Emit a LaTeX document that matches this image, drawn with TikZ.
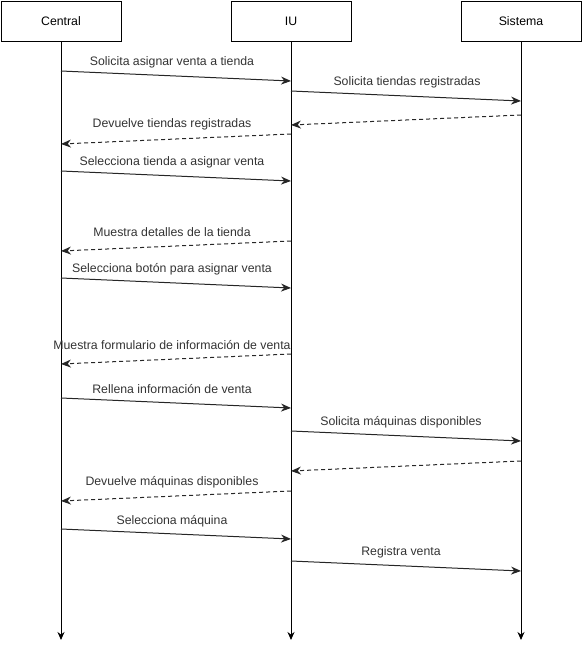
\documentclass[tikz,border=0pt]{standalone}
\usepackage{fontspec}
\setmainfont{Liberation Sans}
\usetikzlibrary{arrows.meta}
\definecolor{txt}{HTML}{333333}
\tikzset{
  actor/.style={draw=black, line width=1pt, minimum width=120pt, minimum height=40pt, inner sep=0pt, font=\fontsize{12.3}{14}\selectfont, fill=white},
  life/.style={line width=1pt, -{Stealth[length=8pt,width=7pt]}},
  msg/.style={line width=1pt, draw=black!85, -{Stealth[length=10pt,width=8pt]}},
  ret/.style={msg, dash pattern=on 4pt off 3pt},
  lbl/.style={font=\fontsize{12.3}{14}\selectfont, text=txt, inner sep=1pt}
}
\begin{document}
\begin{tikzpicture}[x=1pt,y=-1pt]
\useasboundingbox (0,0) rectangle (584,651);
% actors
\node[actor] (central) at (61,21) {Central};
\node[actor] (iu) at (291,21) {IU};
\node[actor] (sis) at (521,21) {Sistema};
\coordinate (centralend) at (61,640);
\coordinate (iuend) at (291,640);
\coordinate (sisend) at (521,640);
\draw[life] (central.south) -- (centralend);
\draw[life] (iu.south) -- (iuend);
\draw[life] (sis.south) -- (sisend);
% message anchor points
\coordinate (m1a) at (61,71);  \coordinate (m1b) at (291,81);
\coordinate (m2a) at (291,91); \coordinate (m2b) at (521,101);
\coordinate (m3a) at (521,115); \coordinate (m3b) at (291,125);
\coordinate (m4a) at (291,134); \coordinate (m4b) at (61,144);
\coordinate (m5a) at (61,171); \coordinate (m5b) at (291,181);
\coordinate (m6a) at (291,241); \coordinate (m6b) at (61,251);
\coordinate (m7a) at (61,278); \coordinate (m7b) at (291,288);
\coordinate (m8a) at (291,354); \coordinate (m8b) at (61,364);
\coordinate (m9a) at (61,398); \coordinate (m9b) at (291,408);
\coordinate (m10a) at (291,431); \coordinate (m10b) at (521,441);
\coordinate (m11a) at (521,461); \coordinate (m11b) at (291,471);
\coordinate (m12a) at (291,491); \coordinate (m12b) at (61,501);
\coordinate (m13a) at (61,529); \coordinate (m13b) at (291,539);
\coordinate (m14a) at (291,561); \coordinate (m14b) at (521,571);
% messages
\draw[msg] (m1a) -- (m1b);
\draw[msg] (m2a) -- (m2b);
\draw[ret] (m3a) -- (m3b);
\draw[ret] (m4a) -- (m4b);
\draw[msg] (m5a) -- (m5b);
\draw[ret] (m6a) -- (m6b);
\draw[msg] (m7a) -- (m7b);
\draw[ret] (m8a) -- (m8b);
\draw[msg] (m9a) -- (m9b);
\draw[msg] (m10a) -- (m10b);
\draw[ret] (m11a) -- (m11b);
\draw[ret] (m12a) -- (m12b);
\draw[msg] (m13a) -- (m13b);
\draw[msg] (m14a) -- (m14b);
% labels
\node[lbl] (l1) at (172,62) {Solicita asignar venta a tienda};
\node[lbl] (l2) at (407,82) {Solicita tiendas registradas};
\node[lbl] (l4) at (172,124) {Devuelve tiendas registradas};
\node[lbl] (l5) at (172,162) {Selecciona tienda a asignar venta};
\node[lbl] (l6) at (172,232) {Muestra detalles de la tienda};
\node[lbl] (l7) at (172,269) {Selecciona botón para asignar venta};
\node[lbl] (l8) at (172,345) {Muestra formulario de información de venta};
\node[lbl] (l9) at (172,389) {Rellena información de venta};
\node[lbl] (l10) at (401,422) {Solicita máquinas disponibles};
\node[lbl] (l12) at (172,482) {Devuelve máquinas disponibles};
\node[lbl] (l13) at (172,521) {Selecciona máquina};
\node[lbl] (l14) at (401,552) {Registra venta};
\end{tikzpicture}
\end{document}
